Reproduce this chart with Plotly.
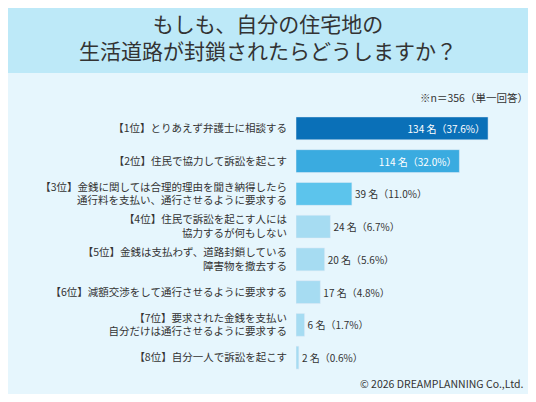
import plotly.graph_objects as go

labels = ["【1位】とりあえず弁護士に相談する",
          "【2位】住民で協力して訴訟を起こす",
          "【3位】金銭に関しては合理的理由を聞き納得したら<br>通行料を支払い、通行させるように要求する",
          "【4位】住民で訴訟を起こす人には<br>協力するが何もしない",
          "【5位】金銭は支払わず、道路封鎖している<br>障害物を撤去する",
          "【6位】減額交渉をして通行させるように要求する",
          "【7位】要求された金銭を支払い<br>自分だけは通行させるように要求する",
          "【8位】自分一人で訴訟を起こす"]
counts = [134, 114, 39, 24, 20, 17, 6, 2]
pcts = [37.6, 32.0, 11.0, 6.7, 5.6, 4.8, 1.7, 0.6]
colors = ["#0A70B8", "#3AABE0", "#5CC4EC", "#A6DCF2", "#A6DCF2", "#A6DCF2", "#A6DCF2", "#A6DCF2"]

OFF = 8  # page body margin
W, H = 536 - 2 * OFF, 402 - 2 * OFF
mt, mb, ml, mr = 112 - OFF, 28 - OFF, 296 - OFF, 25 - OFF
ph = H - mt - mb
pw = W - ml - mr
def py(px):  # page pixel y -> paper y
    return 1 - (px - OFF - mt) / ph
def pxp(px):
    return (px - OFF - ml) / pw

texts = [f"{c} 名（{p:.1f}%）" for c, p in zip(counts, pcts)]
pos = ["inside" if c > 100 else "outside" for c in counts]
tcol = ["white" if c > 100 else "#333" for c in counts]

fig = go.Figure(go.Bar(
    x=counts, y=labels, orientation="h", marker_color=colors, width=0.7,
    text=texts, textposition=pos, insidetextanchor="end",
    textfont=dict(size=10, color=tcol), cliponaxis=False,
    outsidetextfont=dict(size=10, color="#333"),
))
fig.update_layout(
    width=W, height=H, margin=dict(l=ml, r=mr, t=mt, b=mb),
    paper_bgcolor="#E6F6FD", plot_bgcolor="rgba(0,0,0,0)",
    font=dict(family="Noto Sans CJK JP", color="#333"),
    showlegend=False,
    xaxis=dict(range=[0, 150], visible=False),
    yaxis=dict(autorange="reversed", showgrid=False, zeroline=False, showline=False,
               ticks="", tickfont=dict(size=10.5, color="#333"), ticklabelstandoff=8),
    shapes=[dict(type="rect", xref="paper", yref="paper", x0=pxp(-20), x1=pxp(560),
                 y0=py(73), y1=py(-20), fillcolor="#BDE9F8", line_width=0, layer="below")],
    annotations=[
        dict(text="もしも、自分の住宅地の<br>生活道路が封鎖されたらどうしますか？", xref="paper", yref="paper",
             x=pxp(268), y=py(37), xanchor="center", yanchor="middle", showarrow=False,
             font=dict(size=21, color="#333")),
        dict(text="※n＝356（単一回答）", xref="paper", yref="paper", x=pxp(530), y=py(97),
             xanchor="right", yanchor="middle", showarrow=False, font=dict(size=10.5, color="#333")),
        dict(text="© 2026 DREAMPLANNING Co.,Ltd.", xref="paper", yref="paper", x=pxp(526), y=py(383),
             xanchor="right", yanchor="middle", showarrow=False, font=dict(size=10.5, color="#333")),
    ],
)
fig.write_html("out.html")
